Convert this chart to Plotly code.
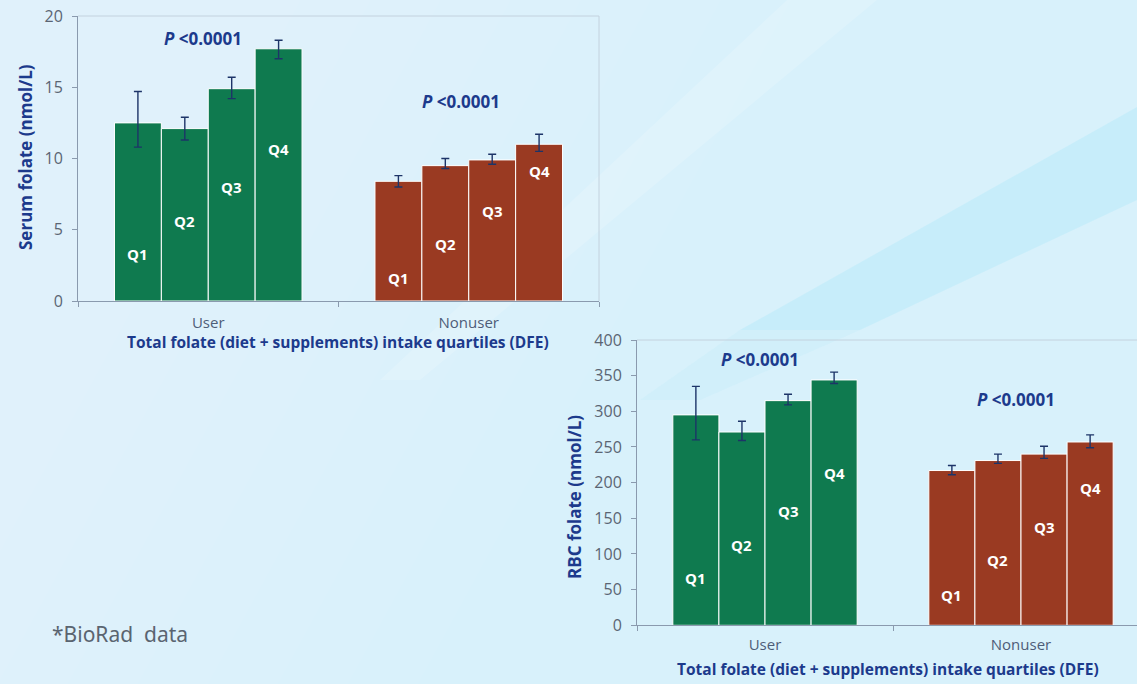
import plotly.graph_objects as go

# ---- data -------------------------------------------------------------
quartiles = ["Q1", "Q2", "Q3", "Q4"]
groups = ["User", "Nonuser"]

# Serum folate (nmol/L): mean with lower / upper confidence limits
serum_user = [12.5, 12.1, 14.9, 17.7]
serum_user_lo = [10.8, 11.3, 14.2, 17.0]
serum_user_hi = [14.7, 12.9, 15.7, 18.3]
serum_non = [8.4, 9.5, 9.9, 11.0]
serum_non_lo = [8.0, 9.3, 9.6, 10.5]
serum_non_hi = [8.8, 10.0, 10.3, 11.7]

# RBC folate (nmol/L)
rbc_user = [295, 271, 315, 344]
rbc_user_lo = [260, 259, 309, 339]
rbc_user_hi = [335, 286, 324, 355]
rbc_non = [217, 231, 240, 257]
rbc_non_lo = [211, 227, 234, 249]
rbc_non_hi = [224, 240, 251, 267]

p_text = "<i>P</i> &lt;0.0001"
x_title = "Total folate (diet + supplements) intake quartiles (DFE)"

# ---- styling ----------------------------------------------------------
W, H = 1137, 684
GREEN = "#0f7a4f"
RED = "#9a3a22"
NAVY = "#1c3a8c"
ERR = "#1d3468"
AXIS = "#8a9aae"
FONT = "Open Sans"
BARGAP = 0.28


def px(x):
    return x / W


def py(y):
    return 1 - y / H


fig = go.Figure()


def add_panel(xa, ya, user, user_lo, user_hi, non, non_lo, non_hi):
    for i, q in enumerate(quartiles):
        vals = [user[i], non[i]]
        hi = [user_hi[i] - user[i], non_hi[i] - non[i]]
        lo = [user[i] - user_lo[i], non[i] - non_lo[i]]
        fig.add_trace(go.Bar(
            x=groups, y=vals, name=q, xaxis=xa, yaxis=ya,
            marker=dict(color=[GREEN, RED], line=dict(color="white", width=1)),
            error_y=dict(type="data", symmetric=False, array=hi, arrayminus=lo,
                         color=ERR, thickness=1.4, width=4),
            showlegend=False, hoverinfo="x+y+name",
        ))


add_panel("x", "y", serum_user, serum_user_lo, serum_user_hi,
          serum_non, serum_non_lo, serum_non_hi)
add_panel("x2", "y2", rbc_user, rbc_user_lo, rbc_user_hi,
          rbc_non, rbc_non_lo, rbc_non_hi)

axis_common = dict(showline=True, linecolor=AXIS, linewidth=1, ticks="outside",
                   tickcolor=AXIS, ticklen=5, showgrid=False, zeroline=False,
                   automargin=False, fixedrange=True)

fig.update_layout(
    width=W, height=H,
    margin=dict(l=0, r=0, t=0, b=0),
    paper_bgcolor="#d8f1fb", plot_bgcolor="rgba(0,0,0,0)",
    barmode="group", bargap=BARGAP, bargroupgap=0,
    font=dict(family=FONT),
    xaxis=dict(domain=[px(78), px(599)], anchor="y", type="category",
               tickson="boundaries", range=[-0.5, 1.5],
               tickfont=dict(size=15, color="#4e5d78"), ticklabelstandoff=8,
               **axis_common),
    yaxis=dict(domain=[py(301), py(16)], anchor="x", range=[0, 20], dtick=5,
               tickfont=dict(size=16, color="#5b6573"), ticklabelstandoff=6,
               **axis_common),
    xaxis2=dict(domain=[px(637), 1.0], anchor="y2", type="category",
                tickson="boundaries", range=[-0.5, -0.5 + (W - 637) / 256],
                tickfont=dict(size=15, color="#4e5d78"), ticklabelstandoff=6,
                **axis_common),
    yaxis2=dict(domain=[py(625.3), py(340)], anchor="x2", range=[0, 400], dtick=50,
                tickfont=dict(size=16, color="#5b6573"), ticklabelstandoff=6,
                **axis_common),
)

# ---- background: soft glow from the left and diagonal streaks -------------
def poly(points, color):
    path = "M " + " L ".join(f"{px(x):.4f},{py(y):.4f}" for x, y in points) + " Z"
    fig.add_shape(type="path", path=path, xref="paper", yref="paper",
                  fillcolor=color, line=dict(width=0), layer="below")


for k in range(8):
    reach = 900 - 70 * k
    poly([(0, -200), (reach, -200), (reach - 600, 900), (0, 900)],
         "rgba(255,255,255,0.045)")
poly([(787, 0), (877, 0), (420, 380), (380, 380)], "rgba(255,255,255,0.16)")
poly([(1137, 107), (1137, 200), (860, 330), (740, 330)], "rgba(176,232,250,0.40)")
poly([(740, 330), (860, 330), (700, 400), (640, 400)], "rgba(176,232,250,0.18)")

# light border on the top (and right, upper panel) of each plot area
for xr, yr in (("x domain", "y domain"), ("x2 domain", "y2 domain")):
    fig.add_shape(type="line", xref=xr, yref=yr, x0=0, x1=1, y0=1, y1=1,
                  line=dict(color="#c3d2de", width=1))
fig.add_shape(type="line", xref="x domain", yref="y domain", x0=1, x1=1, y0=0, y1=1,
              line=dict(color="#c3d2de", width=1))

# ---- annotations -------------------------------------------------------
bar_w = (1 - BARGAP) / len(quartiles)
offsets = [-(1 - BARGAP) / 2 + bar_w * (i + 0.5) for i in range(len(quartiles))]

# label heights inside the bars, as fractions of each y axis
label_frac = {
    ("x", "y"): ([0.165, 0.28, 0.40, 0.535], [0.08, 0.20, 0.315, 0.455]),
    ("x2", "y2"): ([0.165, 0.28, 0.40, 0.535], [0.107, 0.23, 0.345, 0.48]),
}
for (xr, yr), (fu, fn) in label_frac.items():
    for gi, fr in enumerate((fu, fn)):
        for i, q in enumerate(quartiles):
            fig.add_annotation(x=gi + offsets[i], y=fr[i], xref=xr, yref=f"{yr} domain",
                               xanchor="center", yanchor="middle",
                               text=f"<b>{q}</b>", showarrow=False,
                               font=dict(size=15, color="white", family=FONT))

# significance labels
p_pos = [("x", "y", -0.02, 0.92), ("x", "y", 0.97, 0.70),
         ("x2", "y2", -0.02, 0.93), ("x2", "y2", 0.98, 0.79)]
for xr, yr, xv, yf in p_pos:
    fig.add_annotation(x=xv, y=yf, xref=xr, yref=f"{yr} domain", text=f"<b>{p_text}</b>",
                       xanchor="center", yanchor="middle",
                       showarrow=False, font=dict(size=17, color=NAVY, family=FONT))

# axis titles
title_font = dict(size=17, color=NAVY, family=FONT)
fig.add_annotation(x=px(26), y=py(157), xref="paper", yref="paper", textangle=-90,
                   xanchor="center", yanchor="middle",
                   text="<b>Serum folate (nmol/L)</b>", showarrow=False, font=title_font)
fig.add_annotation(x=px(574), y=py(497), xref="paper", yref="paper", textangle=-90,
                   xanchor="center", yanchor="middle",
                   text="<b>RBC folate (nmol/L)</b>", showarrow=False, font=title_font)
for cx, cy in ((338, 342), (888, 669)):
    fig.add_annotation(x=px(cx), y=py(cy), xref="paper", yref="paper",
                       xanchor="center", yanchor="middle",
                       text=f"<b>{x_title}</b>", showarrow=False,
                       font=dict(size=15.5, color=NAVY, family=FONT))

fig.add_annotation(x=px(50), y=py(634), xref="paper", yref="paper",
                   xanchor="left", yanchor="middle",
                   text="*BioRad&nbsp; data", showarrow=False,
                   font=dict(size=21, color="#5a6470", family="Noto Sans"))

fig.write_html("out.html")
